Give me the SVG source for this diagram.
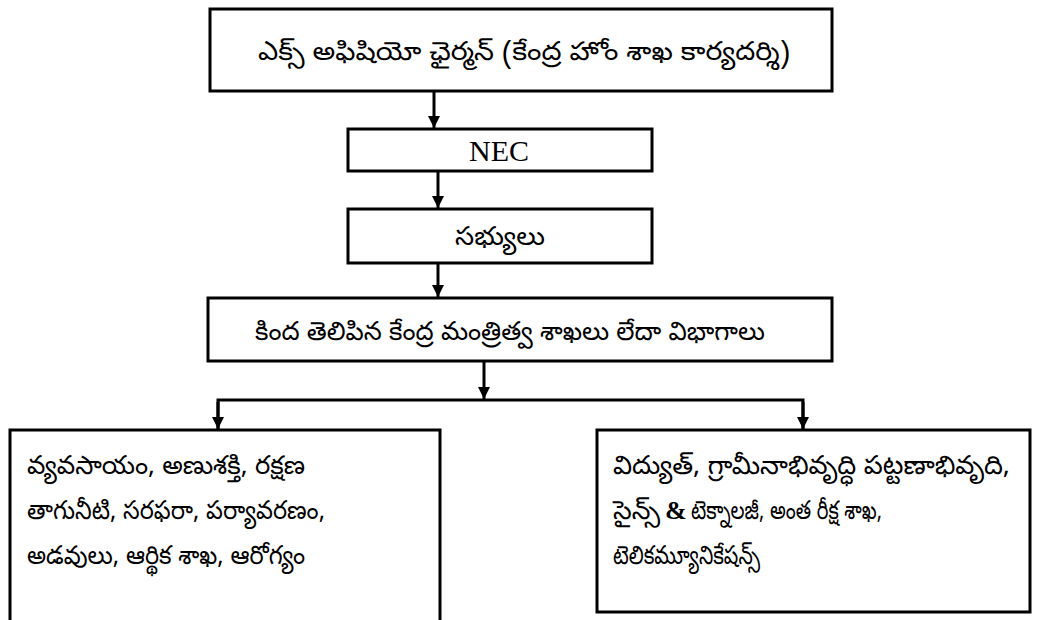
<svg xmlns="http://www.w3.org/2000/svg" width="1039" height="620" viewBox="0 0 1039 620">
<style>
.box{fill:#fff;stroke:#000;stroke-width:3}
.t{font-family:"Noto Sans Telugu","Noto Sans","DejaVu Sans",sans-serif;font-size:26px;font-weight:normal;fill:#000}
.s{font-family:"Liberation Serif",serif;font-size:30px;fill:#000}
.amp{font-family:"Liberation Serif",serif;font-size:26px;font-weight:bold;fill:#000}
.c{stroke:#000;stroke-width:3;fill:none}
</style>
<defs>
<marker id="ah" markerWidth="12" markerHeight="12" viewBox="0 0 12 12" refX="12" refY="6" orient="auto" markerUnits="userSpaceOnUse">
<path d="M0,0 L12,6 L0,12 Z" fill="#000"/>
</marker>
</defs>
<rect width="1039" height="620" fill="#fff"/>
<g id="connectors">
<line class="c" x1="434" y1="91" x2="434" y2="128" marker-end="url(#ah)"/>
<line class="c" x1="438" y1="171" x2="438" y2="208" marker-end="url(#ah)"/>
<line class="c" x1="438" y1="263" x2="438" y2="297" marker-end="url(#ah)"/>
<line class="c" x1="484" y1="361" x2="484" y2="399" marker-end="url(#ah)"/>
<polyline class="c" points="218,429 218,400 803,400 803,429"/>
<line class="c" x1="218" y1="402" x2="218" y2="429" marker-end="url(#ah)"/>
<line class="c" x1="803" y1="402" x2="803" y2="429" marker-end="url(#ah)"/>
</g>
<g id="n1">
<rect class="box" x="210" y="9" width="622" height="82"/>
<text class="t" x="258" y="60" textLength="532" lengthAdjust="spacingAndGlyphs">ఎక్స్ అఫిషియో ఛైర్మన్ (కేంద్ర హోం శాఖ కార్యదర్శి)</text>
</g>
<g id="n2">
<rect class="box" x="348" y="129" width="304" height="42"/>
<text class="s" x="499" y="161" text-anchor="middle">NEC</text>
</g>
<g id="n3">
<rect class="box" x="348" y="209" width="304" height="54"/>
<text class="t" x="455" y="245" textLength="90" lengthAdjust="spacingAndGlyphs">సభ్యులు</text>
</g>
<g id="n4">
<rect class="box" x="208" y="298" width="624" height="63"/>
<text class="t" x="255" y="340" textLength="510" lengthAdjust="spacingAndGlyphs">కింద తెలిపిన కేంద్ర మంత్రిత్వ శాఖలు లేదా విభాగాలు</text>
</g>
<g id="n5">
<rect class="box" x="10" y="430" width="430" height="200"/>
<text class="t" x="27" y="474" textLength="278" lengthAdjust="spacingAndGlyphs">వ్యవసాయం, అణుశక్తి, రక్షణ</text>
<text class="t" x="27" y="519" textLength="298" lengthAdjust="spacingAndGlyphs">తాగునీటి, సరఫరా, పర్యావరణం,</text>
<text class="t" x="27" y="564" textLength="278" lengthAdjust="spacingAndGlyphs">అడవులు, ఆర్థిక శాఖ, ఆరోగ్యం</text>
</g>
<g id="n6">
<rect class="box" x="597" y="430" width="433" height="182"/>
<text class="t" x="613" y="474" textLength="397" lengthAdjust="spacingAndGlyphs">విద్యుత్,  గ్రామీనాభివృద్ధి పట్టణాభివృది,</text>
<text class="t" x="613" y="519" textLength="47" lengthAdjust="spacingAndGlyphs">సైన్స్</text>
<text class="amp" x="665" y="519">&amp;</text>
<text class="t" x="691" y="519" textLength="191" lengthAdjust="spacingAndGlyphs">టెక్నాలజీ, అంత రీక్ష శాఖ,</text>
<text class="t" x="613" y="564" textLength="147" lengthAdjust="spacingAndGlyphs">టెలికమ్యూనికేషన్స్</text>
</g>
</svg>
